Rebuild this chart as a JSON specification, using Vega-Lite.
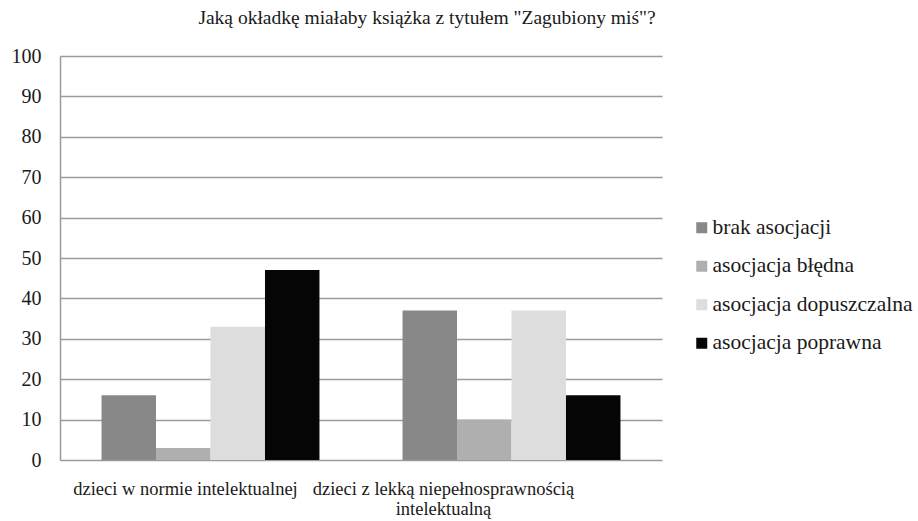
{
  "$schema": "https://vega.github.io/schema/vega-lite/v6.json",
  "width": 602,
  "height": 404,
  "autosize": "none",
  "padding": {"left": 60, "top": 56, "right": 256, "bottom": 61},
  "background": "white",
  "title": {
    "text": "Jaką okładkę miałaby książka z tytułem \"Zagubiony miś\"?",
    "font": "Liberation Serif",
    "fontSize": 19.5,
    "fontWeight": "normal",
    "color": "#1a1a1a",
    "anchor": "middle",
    "frame": "group",
    "dx": 66,
    "offset": 18
  },
  "config": {
    "view": {"stroke": null},
    "font": "Liberation Serif"
  },
  "data": {
    "values": [
      {"grupa": "dzieci w normie intelektualnej", "kategoria": "brak asocjacji", "wartosc": 16},
      {"grupa": "dzieci w normie intelektualnej", "kategoria": "asocjacja błędna", "wartosc": 3},
      {"grupa": "dzieci w normie intelektualnej", "kategoria": "asocjacja dopuszczalna", "wartosc": 33},
      {"grupa": "dzieci w normie intelektualnej", "kategoria": "asocjacja poprawna", "wartosc": 47},
      {"grupa": "dzieci z lekką niepełnosprawnością intelektualną", "kategoria": "brak asocjacji", "wartosc": 37},
      {"grupa": "dzieci z lekką niepełnosprawnością intelektualną", "kategoria": "asocjacja błędna", "wartosc": 10},
      {"grupa": "dzieci z lekką niepełnosprawnością intelektualną", "kategoria": "asocjacja dopuszczalna", "wartosc": 37},
      {"grupa": "dzieci z lekką niepełnosprawnością intelektualną", "kategoria": "asocjacja poprawna", "wartosc": 16}
    ]
  },
  "mark": {"type": "bar"},
  "encoding": {
    "x": {
      "field": "grupa",
      "type": "nominal",
      "sort": null,
      "scale": {"paddingInner": 0.276, "paddingOuter": 0.138},
      "axis": {
        "title": null,
        "labelAngle": 0,
        "ticks": false,
        "domain": false,
        "labelFont": "Liberation Serif",
        "labelFontSize": 18.5,
        "labelColor": "#1a1a1a",
        "labelBaseline": "top",
        "labelPadding": 19,
        "labelLineHeight": 20,
        "labelLimit": 400,
        "labelOffset": {"condition": {"test": "datum.value == 'dzieci w normie intelektualnej'", "value": -25}, "value": -68},
        "labelExpr": "datum.value == 'dzieci w normie intelektualnej' ? datum.value : ['dzieci z lekką niepełnosprawnością', 'intelektualną']"
      }
    },
    "xOffset": {
      "field": "kategoria",
      "type": "nominal",
      "sort": ["brak asocjacji", "asocjacja błędna", "asocjacja dopuszczalna", "asocjacja poprawna"],
      "scale": {"paddingInner": 0, "paddingOuter": 0}
    },
    "y": {
      "field": "wartosc",
      "type": "quantitative",
      "scale": {"domain": [0, 100], "nice": false},
      "axis": {
        "title": null,
        "values": [0, 10, 20, 30, 40, 50, 60, 70, 80, 90, 100],
        "ticks": false,
        "domain": true,
        "domainColor": "#9a9a9a",
        "domainWidth": 1.5,
        "grid": true,
        "gridColor": "#9a9a9a",
        "gridWidth": 1.5,
        "labelFont": "Liberation Serif",
        "labelFontSize": 20,
        "labelColor": "#1a1a1a",
        "labelPadding": 19
      }
    },
    "color": {
      "field": "kategoria",
      "type": "nominal",
      "sort": ["brak asocjacji", "asocjacja błędna", "asocjacja dopuszczalna", "asocjacja poprawna"],
      "scale": {
        "domain": ["brak asocjacji", "asocjacja błędna", "asocjacja dopuszczalna", "asocjacja poprawna"],
        "range": ["#888888", "#afafaf", "#dddddd", "#050505"]
      },
      "legend": {
        "title": null,
        "orient": "none",
        "legendX": 631,
        "legendY": 161,
        "symbolType": "square",
        "symbolSize": 121,
        "symbolStrokeWidth": 0,
        "symbolOpacity": 1,
        "labelFont": "Liberation Serif",
        "labelFontSize": 21.5,
        "labelColor": "#1a1a1a",
        "labelOffset": 0,
        "labelLimit": 300,
        "rowPadding": 15.5
      }
    }
  }
}
